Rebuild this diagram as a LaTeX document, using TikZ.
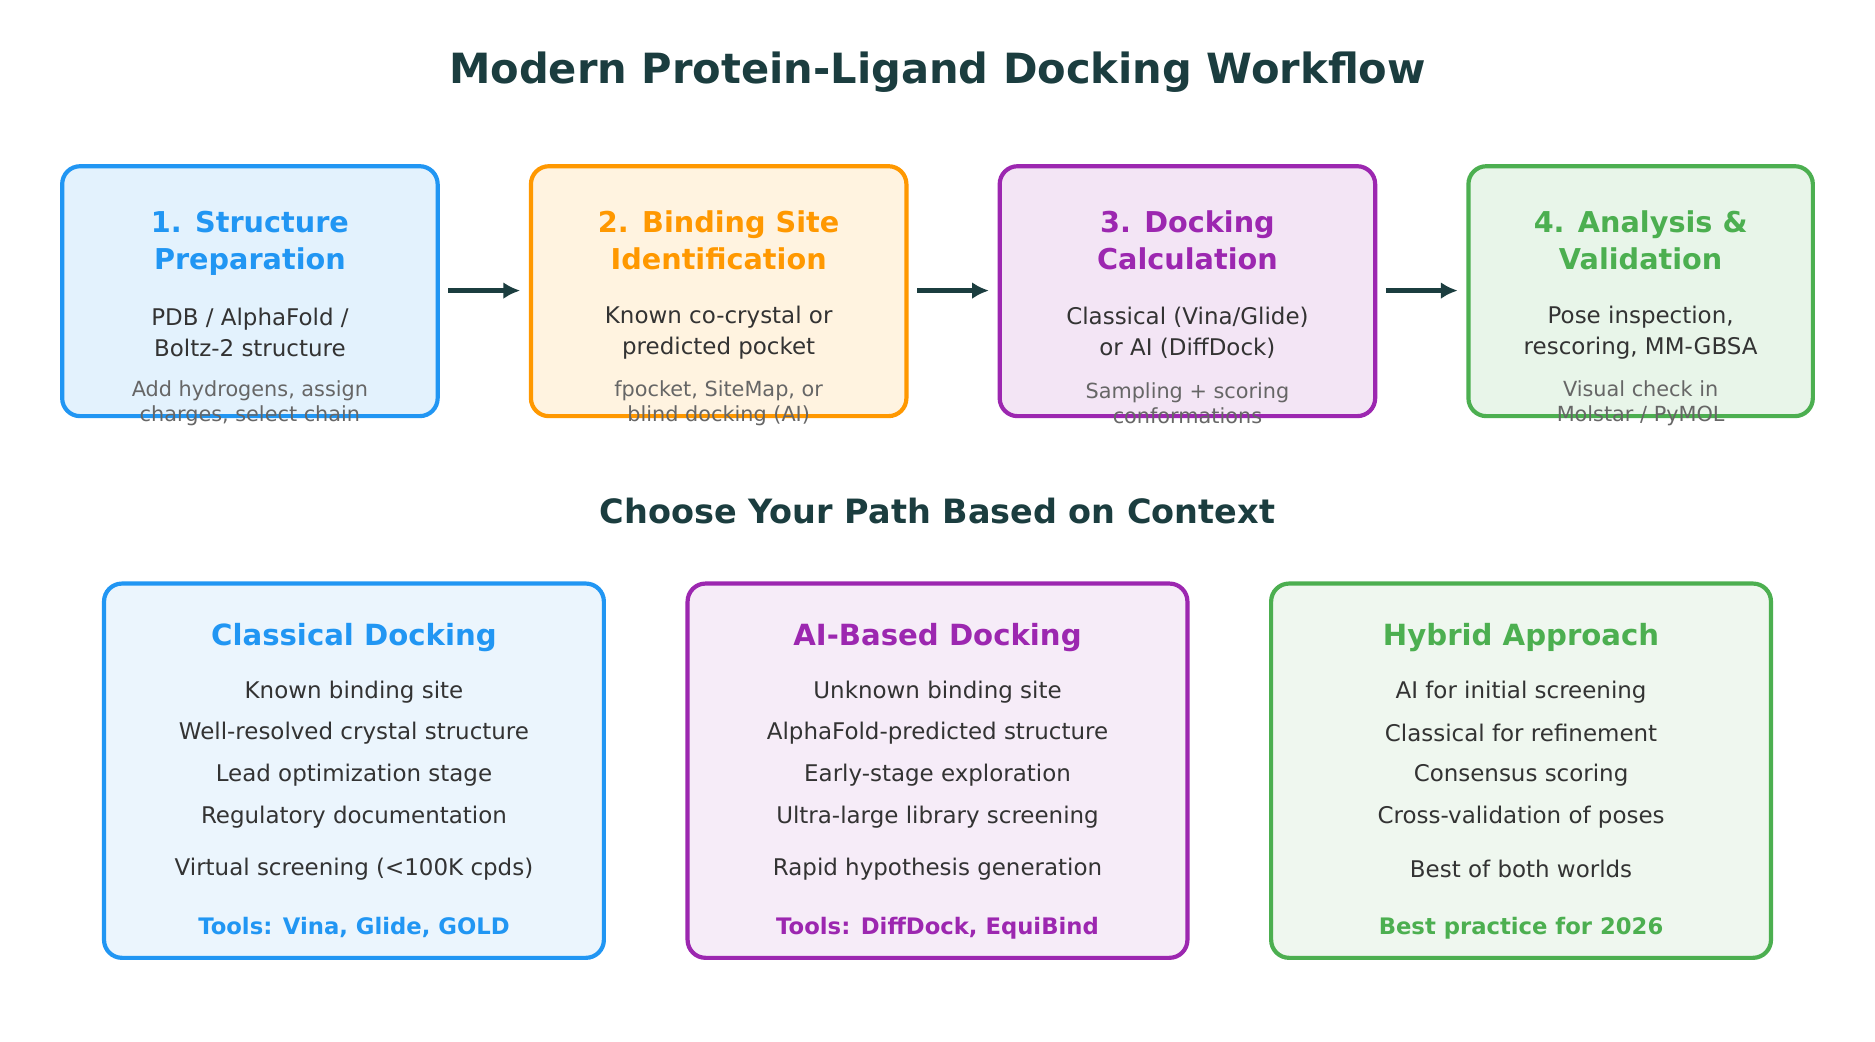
\documentclass[tikz,border=0pt]{standalone}
\usepackage{fontspec}
\setmainfont{DejaVu Sans}
\usetikzlibrary{arrows.meta}
\definecolor{dk}{HTML}{1B3D3F}
\definecolor{bl}{HTML}{2196F3}\definecolor{blf}{HTML}{E3F2FD}\definecolor{blf2}{HTML}{EBF5FD}
\definecolor{or}{HTML}{FF9800}\definecolor{orf}{HTML}{FFF3E0}
\definecolor{pu}{HTML}{9C27B0}\definecolor{puf}{HTML}{F3E5F5}\definecolor{puf2}{HTML}{F6ECF8}
\definecolor{gr}{HTML}{4CAF50}\definecolor{grf}{HTML}{E8F5E9}\definecolor{grf2}{HTML}{EFF7EF}
\definecolor{tx}{HTML}{333333}\definecolor{gy}{HTML}{666666}
\tikzset{
 box/.style={draw=#1,line width=3.5pt,rounded corners=15pt},
 ttl/.style={font=\fontsize{24}{31}\selectfont\bfseries,align=center,text=#1,text depth=0pt},
 body/.style={font=\fontsize{19.2}{26}\selectfont,align=center,text=tx},
 small/.style={font=\fontsize{17.4}{21}\selectfont,align=center,text=gy},
 arr/.style={draw=dk,line width=3.5pt,-{Latex[length=14pt,width=14pt]}},
 btl/.style={font=\fontsize{24.4}{30}\selectfont\bfseries,text=#1},
 item/.style={font=\fontsize{19.2}{22}\selectfont,text=tx},
 tool/.style={font=\fontsize{19}{22}\selectfont\bfseries,text=#1},
}
\begin{document}
\begin{tikzpicture}[x=1pt,y=-1pt]
\useasboundingbox[fill=white] (0,0) rectangle (1568,871);
\node[font=\fontsize{34.8}{40}\selectfont\bfseries,text=dk] (title) at (784,60) {Modern Protein-Ligand Docking Workflow};
% top boxes
\foreach \n/\xa/\xb/\c/\f/\t/\b/\s in {
 1/52/366/bl/blf/{1. Structure\\Preparation}/{PDB / AlphaFold /\\Boltz-2 structure}/{Add hydrogens, assign\\charges, select chain},
 2/444/758/or/orf/{2. Binding Site\\Identification}/{Known co-crystal or\\predicted pocket}/{fpocket, SiteMap, or\\blind docking (AI)},
 3/836/1150/pu/puf/{3. Docking\\Calculation}/{Classical (Vina/Glide)\\or AI (DiffDock)}/{Sampling + scoring\\conformations},
 4/1228/1516/gr/grf/{4. Analysis \&\\Validation}/{Pose inspection,\\rescoring, MM-GBSA}/{Visual check in\\Molstar / PyMOL}}{
 \draw[box=\c,fill=\f] (\xa,139) rectangle (\xb,348);
 \node[ttl=\c] (t\n) at ({(\xa+\xb)/2},201) {\t};
 \node[body] (b\n) at ({(\xa+\xb)/2},278) {\b};
 \node[small] (m\n) at ({(\xa+\xb)/2},337) {\s};
 \coordinate (L\n) at (\xa,243); \coordinate (R\n) at (\xb,243);
}
\draw[arr] ([xshift=9]R1) -- ([xshift=-9]L2);
\draw[arr] ([xshift=9]R2) -- ([xshift=-9]L3);
\draw[arr] ([xshift=9]R3) -- ([xshift=-9]L4);
\node[font=\fontsize{28}{34}\selectfont\bfseries,text=dk] (sub) at (784,427) {Choose Your Path Based on Context};
% bottom boxes
\foreach \n/\xa/\c/\f/\t/\ia/\ib/\ic/\id/\ie/\tl in {
 1/87/bl/blf2/{Classical Docking}/{Known binding site}/{Well-resolved crystal structure}/{Lead optimization stage}/{Regulatory documentation}/{Virtual screening (<100K cpds)}/{Tools: Vina, Glide, GOLD},
 2/575/pu/puf2/{AI-Based Docking}/{Unknown binding site}/{AlphaFold-predicted structure}/{Early-stage exploration}/{Ultra-large library screening}/{Rapid hypothesis generation}/{Tools: DiffDock, EquiBind},
 3/1063/gr/grf2/{Hybrid Approach}/{AI for initial screening}/{Classical for refinement}/{Consensus scoring}/{Cross-validation of poses}/{Best of both worlds}/{Best practice for 2026}}{
 \draw[box=\c,fill=\f] (\xa,488) rectangle ++(418,313);
 \node[btl=\c] (bt\n) at (\xa+209,533) {\t};
 \node[item] (i\n a) at (\xa+209,579) {\ia};
 \node[item] (i\n b) at (\xa+209,613) {\ib};
 \node[item] (i\n c) at (\xa+209,648) {\ic};
 \node[item] (i\n d) at (\xa+209,683) {\id};
 \node[item] (i\n e) at (\xa+209,727) {\ie};
 \node[tool=\c] (tl\n) at (\xa+209,776) {\tl};
}
\end{tikzpicture}
\end{document}
